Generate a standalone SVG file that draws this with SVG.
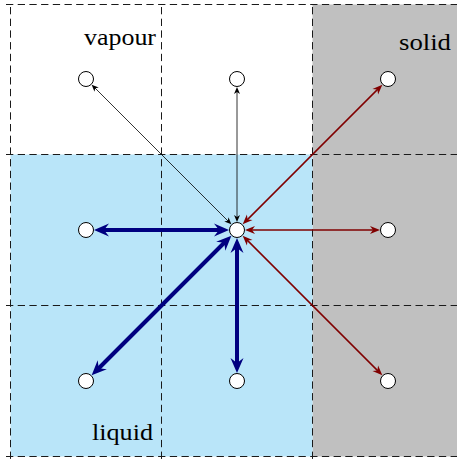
<svg xmlns="http://www.w3.org/2000/svg" width="457" height="462" viewBox="0 0 457 462">
<style>
.grid{stroke:#1a1a1a;stroke-width:1;stroke-dasharray:7.3 4.4;fill:none}
.node{fill:#fff;stroke:#000;stroke-width:1}
.lbl{font-family:"Liberation Serif","DejaVu Serif",serif;font-size:24px;fill:#000;text-anchor:end}
.nv{stroke:#000080;stroke-width:4;fill:none;marker-start:url(#hn);marker-end:url(#hn)}
.rd{stroke:#800000;stroke-width:1.5;fill:none;marker-start:url(#hr);marker-end:url(#hr)}
.bk{stroke:#000;stroke-width:0.8;fill:none;marker-start:url(#hb);marker-end:url(#hb)}
</style>
<defs>
<marker id="hn" markerUnits="userSpaceOnUse" viewBox="-16 -7 17 14" markerWidth="17" markerHeight="14" refX="-9" refY="0" orient="auto-start-reverse">
<path d="M0,0 L-15,-6.5 L-10,0 L-15,6.5 Z" fill="#000080"/>
</marker>
<marker id="hr" markerUnits="userSpaceOnUse" viewBox="-11 -5 12 10" markerWidth="12" markerHeight="10" refX="-6" refY="0" orient="auto-start-reverse">
<path d="M0,0 L-10,-4 L-7,0 L-10,4 Z" fill="#800000"/>
</marker>
<marker id="hb" markerUnits="userSpaceOnUse" viewBox="-8 -4 9 8" markerWidth="9" markerHeight="8" refX="-4" refY="0" orient="auto-start-reverse">
<path d="M0,0 L-7,-3 L-5,0 L-7,3 Z" fill="#000"/>
</marker>
</defs>
<g id="regions">
<rect x="312.5" y="4.5" width="150" height="452" fill="#c0c0c0"/>
<rect x="10.5" y="154.5" width="302" height="302" fill="#b9e5f9"/>
</g>
<g id="grid" class="grid">
<line x1="6" y1="4.5" x2="457" y2="4.5"/>
<line x1="6" y1="154.5" x2="457" y2="154.5"/>
<line x1="6" y1="305.5" x2="457" y2="305.5"/>
<line x1="6" y1="456.5" x2="457" y2="456.5"/>
<line x1="10.5" y1="7" x2="10.5" y2="462"/>
<line x1="161.5" y1="7" x2="161.5" y2="462"/>
<line x1="312.5" y1="7" x2="312.5" y2="462"/>
</g>
<g id="labels">
<text class="lbl" x="156" y="45" textLength="72" lengthAdjust="spacingAndGlyphs">vapour</text>
<text class="lbl" x="451" y="50" textLength="52" lengthAdjust="spacingAndGlyphs">solid</text>
<text class="lbl" x="153" y="440" textLength="61" lengthAdjust="spacingAndGlyphs">liquid</text>
</g>
<g id="connectors">
<path class="nv" d="M220,230 L103,230"/>
<path class="nv" d="M224.98,242.02 L98.02,368.98"/>
<path class="nv" d="M237,247 L237,364"/>
<path class="rd" d="M246.9,220.1 L378.1,88.9"/>
<path class="rd" d="M251,230 L374,230"/>
<path class="rd" d="M246.9,239.9 L378.1,371.1"/>
<path class="bk" d="M228.51,221.51 L94.49,87.49"/>
<path class="bk" d="M237,218 L237,91"/>
</g>
<g id="node-vapour"><circle class="node" cx="86" cy="79" r="7.5"/></g>
<g id="node-top"><circle class="node" cx="237" cy="79" r="7.5"/></g>
<g id="node-solid-top"><circle class="node" cx="388" cy="79" r="7.5"/></g>
<g id="node-left"><circle class="node" cx="86" cy="230" r="7.5"/></g>
<g id="node-center"><circle class="node" cx="237" cy="230" r="7.5"/></g>
<g id="node-solid-mid"><circle class="node" cx="388" cy="230" r="7.5"/></g>
<g id="node-bottom-left"><circle class="node" cx="86" cy="381" r="7.5"/></g>
<g id="node-bottom"><circle class="node" cx="237" cy="381" r="7.5"/></g>
<g id="node-solid-bottom"><circle class="node" cx="388" cy="381" r="7.5"/></g>
</svg>
